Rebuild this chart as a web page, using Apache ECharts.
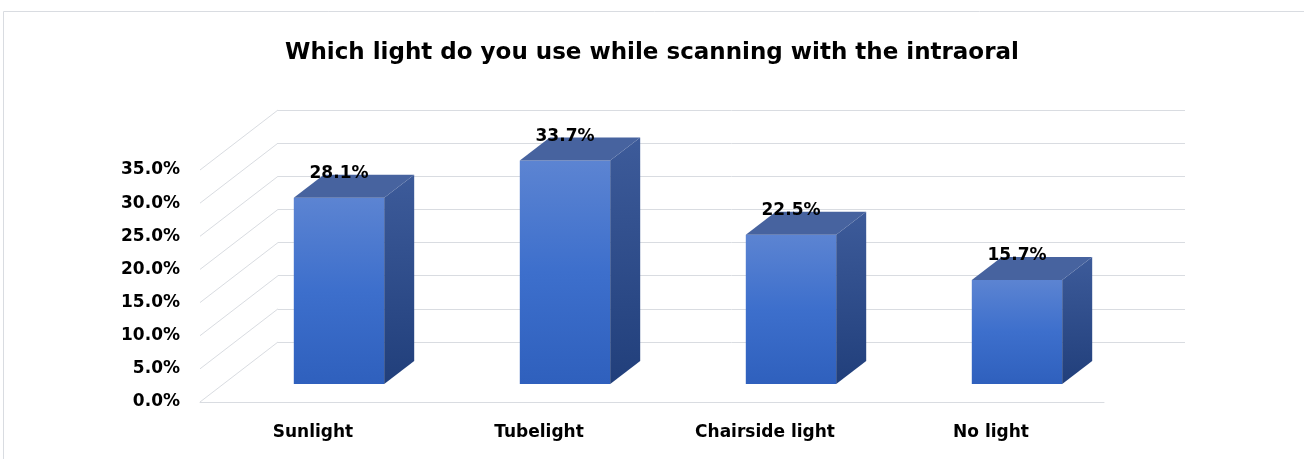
<!DOCTYPE html>
<html>
<head>
<meta charset="utf-8">
<script src="https://cdn.jsdelivr.net/npm/echarts@6/dist/echarts.min.js"></script>
<style>html,body{margin:0;padding:0;background:#fff}#c{width:1304px;height:459px}</style>
</head>
<body>
<div id="c"></div>
<script>
const titleText = 'Which light do you use while scanning with the intraoral';
const categories = ['Sunlight', 'Tubelight', 'Chairside light', 'No light'];
const values = [28.1, 33.7, 22.5, 15.7];
const yTicks = [0, 5, 10, 15, 20, 25, 30, 35];

const FONT = 'DejaVu Sans';
const GRID_COLOR = '#d9dce1';
// perspective offsets (pixels)
const DEPTH = [-78, 60];      // back wall -> front plane
const BAR_FRONT = [26, -18];  // front plane -> bar front face
const BAR_DEPTH = [30, -23];  // bar front face -> bar back face

const chart = echarts.init(document.getElementById('c'), null, {renderer: 'canvas'});

const option = {
  animation: false,
  backgroundColor: '#fff',
  title: {
    text: titleText,
    left: 'center',
    top: 37,
    textStyle: {fontFamily: FONT, fontWeight: 'bold', fontSize: 23, color: '#000'}
  },
  graphic: [{
    type: 'rect',
    shape: {x: 3.5, y: 11.5, width: 1400, height: 500},
    style: {fill: 'none', stroke: '#d9dce1', lineWidth: 1},
    silent: true
  }],
  grid: [
    {left: 278, right: 119, top: 110, bottom: 117},
    {left: 200, right: 200, top: 170, bottom: 57}
  ],
  xAxis: [
    {gridIndex: 0, type: 'category', data: categories, show: false},
    {gridIndex: 1, type: 'category', data: categories,
     axisLine: {show: true, lineStyle: {color: GRID_COLOR, width: 1}},
     axisTick: {show: false},
     axisLabel: {fontFamily: FONT, fontWeight: 'bold', fontSize: 17, color: '#000', margin: 22}}
  ],
  yAxis: [
    {gridIndex: 0, type: 'value', min: 0, max: 35, interval: 5,
     axisLine: {show: false}, axisTick: {show: false}, axisLabel: {show: false},
     splitLine: {show: true, lineStyle: {color: GRID_COLOR, width: 1}}},
    {gridIndex: 1, type: 'value', min: 0, max: 35, interval: 5,
     axisLine: {show: false}, axisTick: {show: false}, splitLine: {show: false},
     axisLabel: {fontFamily: FONT, fontWeight: 'bold', fontSize: 17, color: '#000', margin: 20,
       padding: [6, 0, 0, 0],
       formatter: v => v.toFixed(1) + '%'}}
  ],
  series: [
    {
      type: 'custom',
      xAxisIndex: 0, yAxisIndex: 0,
      data: yTicks.map(t => [0, t]),
      silent: true,
      renderItem: function (params, api) {
        const v = api.value(1);
        const x = params.coordSys.x;
        const y = api.coord([0, v])[1];
        return {
          type: 'line',
          shape: {x1: x, y1: y, x2: x + DEPTH[0], y2: y + DEPTH[1]},
          style: {stroke: GRID_COLOR, lineWidth: 1}
        };
      }
    },
    {
      type: 'custom',
      xAxisIndex: 1, yAxisIndex: 1,
      data: values.map((v, i) => [i, v]),
      renderItem: function (params, api) {
        const i = api.value(0), v = api.value(1);
        const top = api.coord([i, v]);
        const base = api.coord([i, 0]);
        const w = api.size([1, 0])[0] * 0.40;
        const cx = top[0] + BAR_FRONT[0];
        const x0 = cx - w / 2, x1 = cx + w / 2;
        const yT = top[1] + BAR_FRONT[1], yB = base[1] + BAR_FRONT[1];
        const dx = BAR_DEPTH[0], dy = BAR_DEPTH[1];
        return {
          type: 'group',
          children: [
            {type: 'polygon', shape: {points: [[x0, yT], [x1, yT], [x1, yB], [x0, yB]]},
             style: {fill: new echarts.graphic.LinearGradient(0, 0, 0, 1, [
               {offset: 0, color: '#5c84d2'}, {offset: 0.5, color: '#3d6fcc'}, {offset: 1, color: '#2f60bd'}])}},
            {type: 'polygon', shape: {points: [[x1, yT], [x1 + dx, yT + dy], [x1 + dx, yB + dy], [x1, yB]]},
             style: {fill: new echarts.graphic.LinearGradient(0, 0, 0, 1, [
               {offset: 0, color: '#3d5b9a'}, {offset: 1, color: '#213f7b'}])}},
            {type: 'polygon', shape: {points: [[x0, yT], [x0 + dx, yT + dy], [x1 + dx, yT + dy], [x1, yT]]},
             style: {fill: '#47639f'}},
            {type: 'text', style: {text: v.toFixed(1) + '%', x: cx, y: yT - 24,
              align: 'center', verticalAlign: 'middle',
              font: 'bold 17px "' + FONT + '"', fill: '#000'}}
          ]
        };
      }
    }
  ]
};
chart.setOption(option);
</script>
</body>
</html>
